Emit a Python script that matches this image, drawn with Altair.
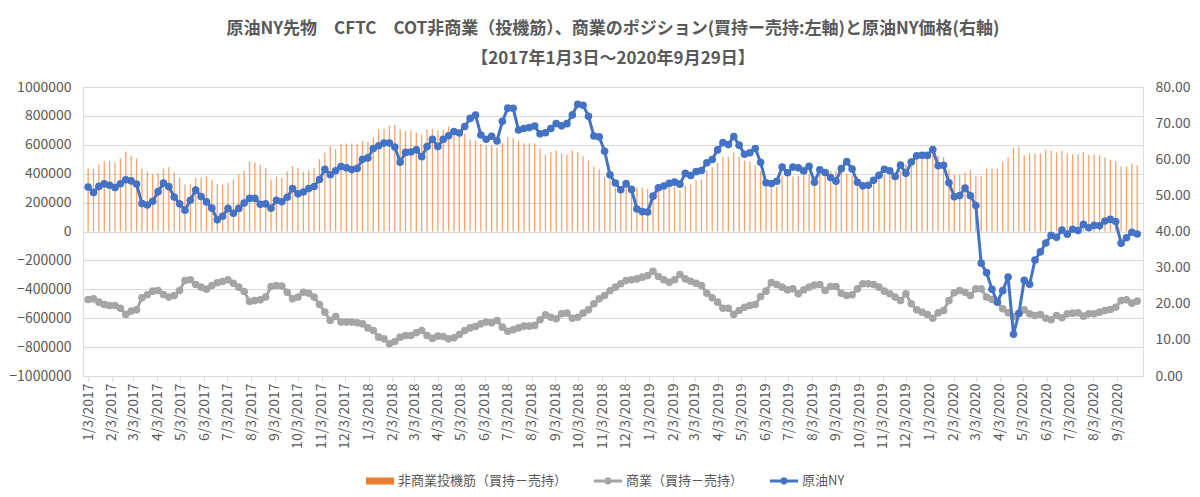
import altair as alt
import pandas as pd

FONT = "Noto Sans CJK JP"
TXT = "#595959"

S1 = "非商業投機筋（買持－売持）"
S2 = "商業（買持－売持）"
S3 = "原油NY"

# weekly report dates (Tuesdays) 2017-01-03 .. 2020-09-29
dates = pd.date_range("2017-01-03", periods=196, freq="7D")
# monthly axis tick dates (3rd of each month)
tick_dates = pd.date_range("2017-01-01", "2020-09-01", freq="MS") + pd.Timedelta(days=2)

# non-commercial net position (thousand contracts)
noncomm_k = [
    438, 434, 464, 484, 491, 477, 507, 554, 524, 505,
    434, 415, 397, 404, 434, 445, 408, 371, 325, 325,
    371, 374, 381, 358, 328, 323, 337, 360, 394, 420,
    487, 477, 464, 441, 358, 381, 371, 415, 452, 441,
    411, 424, 441, 501, 547, 591, 570, 607, 607, 609,
    607, 627, 620, 653, 706, 710, 731, 738, 708, 697,
    701, 683, 669, 704, 708, 699, 704, 727, 708, 681,
    676, 639, 630, 607, 593, 597, 579, 614, 653, 646,
    630, 611, 611, 611, 574, 533, 551, 563, 542, 531,
    558, 549, 521, 491, 450, 431, 381, 358, 302, 298,
    316, 307, 307, 302, 293, 256, 279, 302, 307, 311,
    284, 316, 325, 353, 362, 422, 445, 477, 517, 517,
    547, 519, 491, 487, 459, 418, 358, 334, 311, 380,
    385, 380, 385, 390, 395, 385, 400, 415, 420, 420,
    410, 400, 390, 380, 345, 340, 355, 385, 395, 400,
    405, 420, 465, 510, 545, 540, 530, 555, 525, 515,
    430, 394, 392, 408, 427, 383, 383, 434, 434, 434,
    482, 510, 581, 588, 528, 540, 540, 540, 568, 558,
    547, 558, 540, 535, 535, 549, 531, 535, 526, 512,
    496, 487, 450, 450, 471, 459,
]

# commercial net position (thousand contracts)
comm_k = [
    -471, -466, -489, -505, -512, -512, -531, -574, -551, -542,
    -459, -438, -413, -408, -436, -454, -443, -408, -339, -334,
    -367, -385, -399, -374, -355, -346, -334, -358, -385, -415,
    -484, -478, -473, -454, -381, -374, -378, -420, -466, -454,
    -420, -427, -454, -505, -558, -616, -588, -627, -627, -627,
    -632, -639, -667, -685, -731, -743, -777, -761, -731, -720,
    -720, -701, -685, -720, -740, -724, -727, -743, -736, -713,
    -685, -667, -657, -639, -627, -632, -616, -662, -690, -680,
    -667, -655, -655, -650, -611, -577, -593, -604, -570, -565,
    -600, -593, -565, -542, -500, -466, -443, -410, -385, -362,
    -339, -334, -328, -316, -305, -275, -311, -334, -351, -334,
    -298, -328, -344, -358, -374, -427, -459, -489, -531, -531,
    -574, -547, -524, -512, -505, -450, -413, -353, -367, -385,
    -404, -397, -431, -404, -385, -371, -367, -408, -381, -381,
    -427, -443, -438, -397, -362, -362, -367, -385, -413, -431,
    -454, -478, -431, -500, -542, -558, -574, -600, -563, -547,
    -478, -424, -408, -420, -443, -397, -397, -454, -471, -489,
    -535, -563, -588, -565, -542, -570, -581, -574, -600, -611,
    -581, -597, -570, -565, -563, -586, -570, -570, -558, -547,
    -540, -524, -478, -473, -496, -482,
]

# crude oil NY price (USD/bbl)
price = [
    52.33, 50.82, 52.48, 53.18, 52.81, 52.17, 53.20, 54.33, 54.01, 53.14,
    47.72, 47.34, 48.37, 51.03, 53.40, 52.41, 49.56, 47.66, 45.88, 48.66,
    51.47, 49.66, 48.19, 46.46, 43.23, 44.24, 46.40, 45.04, 46.40, 47.89,
    49.16, 49.17, 47.55, 47.64, 46.44, 48.66, 48.23, 49.48, 51.88, 50.42,
    50.92, 51.88, 52.47, 54.38, 57.20, 55.70, 56.83, 57.99, 57.62, 57.14,
    57.46, 59.97, 60.37, 62.96, 63.73, 64.47, 64.50, 63.39, 59.19, 61.90,
    62.01, 62.60, 60.71, 63.54, 65.55, 63.51, 65.51, 66.52, 67.70, 67.25,
    69.06, 71.31, 72.20, 66.73, 65.52, 66.36, 65.07, 70.53, 74.14, 74.11,
    68.08, 68.52, 68.76, 69.17, 67.04, 67.35, 68.53, 69.87, 69.25, 69.85,
    72.28, 75.23, 74.96, 71.92, 66.43, 66.18, 62.21, 55.69, 53.43, 51.56,
    53.25, 51.65, 46.24, 45.50, 45.41, 49.78, 52.11, 52.61, 53.31, 53.66,
    53.10, 56.09, 55.50, 56.56, 56.87, 59.03, 59.94, 62.58, 64.61, 64.05,
    66.30, 63.91, 61.40, 61.78, 62.99, 59.14, 53.48, 53.27, 53.90, 57.83,
    56.25, 57.83, 57.62, 56.77, 58.05, 53.63, 57.10, 56.34, 54.93, 53.94,
    57.40, 59.34, 57.29, 53.62, 52.63, 52.81, 54.16, 55.54, 57.23, 56.80,
    55.21, 58.41, 56.10, 59.24, 60.94, 61.11, 61.06, 62.70, 58.23, 58.34,
    53.48, 49.61, 49.94, 52.05, 49.90, 47.18, 31.20, 28.60, 24.01, 20.48,
    23.63, 27.40, 11.57, 17.30, 26.50, 25.40, 32.10, 34.35, 36.81, 38.94,
    38.38, 40.37, 39.27, 40.62, 40.29, 41.96, 41.04, 41.70, 41.61, 42.89,
    43.35, 42.76, 36.76, 38.28, 39.80, 39.29,
]

left_ticks = list(range(-1000000, 1000001, 200000))
right_ticks = list(range(0, 81, 10))


def ms(ts):
    return int(pd.Timestamp(ts).value // 10**6)


t_ms = [ms(d) for d in dates]
tick_ms = [ms(d) for d in tick_dates]

rows = []
for t, a, b, p in zip(t_ms, noncomm_k, comm_k, price):
    rows.append({"t": t, "series": S1, "v": a * 1000})
    rows.append({"t": t, "series": S2, "v": b * 1000})
    rows.append({"t": t, "series": S3, "v": p})
df = pd.DataFrame(rows)

color_scale = alt.Scale(domain=[S1, S2, S3], range=["#ED7D31", "#A5A5A5", "#4472C4"])

rect_path = "M-1,-0.25H1V0.25H-1Z"
line_dot = ("M-1,-0.1H1V0.1H-1Z "
            "M0.26,0A0.26,0.26 0 1,1 -0.26,0A0.26,0.26 0 1,1 0.26,0Z")
legend = alt.Legend(
    title=None, orient="none", legendX=283, legendY=380, direction="horizontal",
    labelFont=FONT, labelFontSize=13, labelColor=TXT, labelLimit=0,
    symbolSize=784, symbolStrokeWidth=0, symbolOpacity=1, columnPadding=26, labelOffset=4,
    symbolType={"expr": f"datum.value === '{S1}' ? '{rect_path}' : '{line_dot}'"},
)

xscale = alt.Scale(type="utc", domain=[ms("2017-01-02 20:00"), ms("2020-09-30")])
xaxis = alt.Axis(
    values=tick_ms, labelExpr="utcFormat(datum.value, '%-m/%-d/%Y')",
    labelAngle=270, labelFont=FONT, labelFontSize=14, labelColor=TXT,
    grid=False, domainColor="#D9D9D9", tickColor="#D9D9D9", tickSize=5,
    labelPadding=2, labelOverlap=False, labelFlush=False, labelBound=False, title=None,
)
yl_axis = alt.Axis(
    values=left_ticks, format="d", labelFont=FONT, labelFontSize=14, labelColor=TXT,
    grid=True, gridColor="#D9D9D9", domain=False, ticks=False, labelPadding=12, title=None,
)
yr_axis = alt.Axis(
    values=right_ticks, format=".2f", orient="right", labelFont=FONT, labelFontSize=14,
    labelColor=TXT, grid=False, domain=False, ticks=False, labelPadding=12, title=None,
)

X = alt.X("t:T", scale=xscale, axis=xaxis)
YL = alt.Y("v:Q", scale=alt.Scale(domain=[-1000000, 1000000], nice=False), axis=yl_axis)
YR = alt.Y("v:Q", scale=alt.Scale(domain=[0, 80], nice=False), axis=yr_axis)
C = alt.Color("series:N", scale=color_scale, legend=legend)
C2 = alt.Color("series:N", scale=color_scale)

base = alt.Chart(df)
bars = base.transform_filter(alt.datum.series == S1).mark_bar(width=1.3, opacity=0.7).encode(x=X, y=YL, color=C)
gline = base.transform_filter(alt.datum.series == S2).mark_line(strokeWidth=3).encode(x=X, y=YL, color=C2)
gpts = base.transform_filter(alt.datum.series == S2).mark_circle(size=58, opacity=1).encode(x=X, y=YL, color=C2)
bline = base.transform_filter(alt.datum.series == S3).mark_line(strokeWidth=3).encode(x=X, y=YR, color=C2)
bpts = base.transform_filter(alt.datum.series == S3).mark_circle(size=58, opacity=1).encode(x=X, y=YR, color=C2)

left = alt.layer(bars, gline, gpts)
right = alt.layer(bline, bpts)

title = alt.TitleParams(
    text=["原油NY先物\u3000CFTC\u3000COT非商業（投機筋）、商業のポジション(買持ー売持:左軸)と原油NY価格(右軸)",
          "【2017年1月3日～2020年9月29日】"],
    font=FONT, fontSize=17, fontWeight="bold", color=TXT, anchor="middle",
    lineHeight=30, offset=12,
)

chart = alt.layer(left, right).resolve_scale(y="independent").properties(
    width=1060, height=289, title=title,
    autosize=alt.AutoSizeParams(type="none"),
    padding={"left": 75, "top": 79, "right": 49, "bottom": 113},
).configure_view(stroke=None).configure(font=FONT)

chart.save("out.html", embed_options={"renderer": "svg", "actions": False})
